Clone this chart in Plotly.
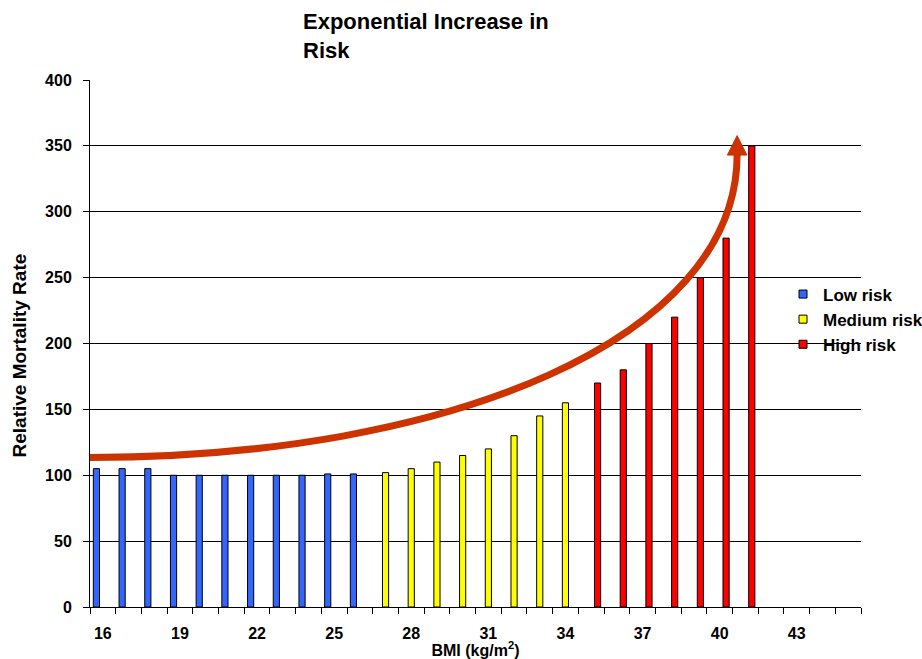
import plotly.graph_objects as go

# BMI categories and relative mortality rate per risk band
bmi_low = [16, 17, 18, 19, 20, 21, 22, 23, 24, 25, 26]
rate_low = [105, 105, 105, 100, 100, 100, 100, 100, 100, 101, 101]

bmi_medium = [27, 28, 29, 30, 31, 32, 33, 34]
rate_medium = [102, 105, 110, 115, 120, 130, 145, 155]

bmi_high = [35, 36, 37, 38, 39, 40, 41]
rate_high = [170, 180, 200, 220, 250, 280, 350]

x_tick_values = [16, 19, 22, 25, 28, 31, 34, 37, 40, 43]
y_tick_values = [0, 50, 100, 150, 200, 250, 300, 350, 400]

FONT = "Arial, Liberation Sans, sans-serif"
W, H = 922, 659
MARGIN = dict(l=90, r=61, t=80, b=52)

# each band keeps its own slot inside a category (clustered layout)
BAR_WIDTH = 0.24
series = [
    ("Low risk", bmi_low, rate_low, "#3366FF", -0.37),
    ("Medium risk", bmi_medium, rate_medium, "#FFFF00", -0.12),
    ("High risk", bmi_high, rate_high, "#FF0000", 0.13),
]

fig = go.Figure()
for name, xs, ys, color, offset in series:
    fig.add_trace(go.Bar(
        x=xs, y=ys, name=name, legendgroup=name, showlegend=False,
        width=BAR_WIDTH, offset=offset,
        marker=dict(color=color, line=dict(color="black", width=1)),
    ))
    # small square legend key for the band
    fig.add_trace(go.Scatter(
        x=[None], y=[None], mode="markers", name=name, legendgroup=name,
        marker=dict(symbol="square", size=8, color=color,
                    line=dict(color="black", width=1)),
    ))

# sweeping arrow showing the exponential rise in risk
arrow_curve = "M 15.5,113.5 C 29.5,113.5 40.68,203.4 40.68,343.5"
arrow_head = "M 40.68,357.8 L 40.30,343.0 L 41.06,343.0 Z"
fig.add_shape(type="path", path=arrow_curve, xref="x", yref="y",
              line=dict(color="#CC3300", width=7), layer="above")
fig.add_shape(type="path", path=arrow_head, xref="x", yref="y",
              line=dict(color="#CC3300", width=1), fillcolor="#CC3300",
              layer="above")

plot_w = W - MARGIN["l"] - MARGIN["r"]
plot_h = H - MARGIN["t"] - MARGIN["b"]

# vertical axis caption
fig.add_annotation(
    text="Relative Mortality Rate", textangle=-90, showarrow=False,
    xref="paper", yref="paper",
    x=(18.5 - MARGIN["l"]) / plot_w, y=(H - MARGIN["b"] - 356) / plot_h,
    xanchor="center", yanchor="middle",
    font=dict(family=FONT, size=19, color="black", weight="bold"),
)

fig.update_layout(
    width=W, height=H,
    margin=dict(**MARGIN, autoexpand=False),
    paper_bgcolor="white", plot_bgcolor="white",
    barmode="overlay",
    font=dict(family=FONT, color="black"),
    title=dict(
        text="Exponential Increase in<br>Risk",
        x=303 / W, xanchor="left", xref="container",
        y=1 - 29 / H, yanchor="top", yref="container",
        font=dict(family=FONT, size=22, color="black", weight="bold"),
    ),
    legend=dict(
        x=(783 - 90) / plot_w, y=(607.5 - 277) / plot_h, xanchor="left", yanchor="top",
        bgcolor="rgba(0,0,0,0)", borderwidth=0,
        font=dict(family=FONT, size=17, color="black", weight="bold"),
        tracegroupgap=0,
    ),
    xaxis=dict(
        range=[15.5, 45.5], tickmode="array", tickvals=x_tick_values,
        ticktext=[str(v) for v in x_tick_values],
        ticks="", showgrid=False, zeroline=False,
        showline=True, linecolor="black", linewidth=1,
        tickfont=dict(family=FONT, size=16, color="black", weight="bold"),
        ticklabelstandoff=12,
        minor=dict(tickmode="linear", tick0=15.5, dtick=1, ticks="outside",
                   ticklen=6, tickcolor="black", tickwidth=1, showgrid=False),
        title=dict(text="BMI (kg/m<sup>2</sup>)", standoff=3,
                   font=dict(family=FONT, size=16, color="black", weight="bold")),
        automargin=False,
    ),
    yaxis=dict(
        range=[0, 400], tickmode="array", tickvals=y_tick_values,
        ticks="outside", ticklen=6, tickcolor="black", tickwidth=1,
        showgrid=True, gridcolor="black", gridwidth=1, zeroline=False,
        showline=True, linecolor="black", linewidth=1,
        tickfont=dict(family=FONT, size=16, color="black", weight="bold"),
        ticklabelstandoff=8,
        automargin=False,
    ),
)

fig.write_html("out.html")
